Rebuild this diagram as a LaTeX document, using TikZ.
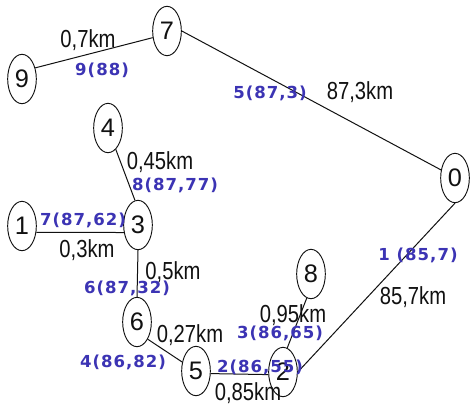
\documentclass[tikz,border=0pt]{standalone}
\usepackage{fontspec}
\setmainfont{Liberation Sans}
\newfontfamily\kmfont[FakeStretch=0.82]{Liberation Sans}
\newfontfamily\tagfont[LetterSpace=6]{DejaVu Sans}
\usetikzlibrary{shapes.geometric}
\definecolor{tagblue}{HTML}{3C34B4}
\definecolor{ink}{HTML}{111111}
\tikzset{
  stop/.style={ellipse, draw=ink, line width=0.7pt, inner sep=0pt,
    minimum width=21.5pt, minimum height=37pt, text=ink,
    font=\fontsize{19}{19}\selectfont},
  km/.style={inner sep=0pt, text=ink, font=\kmfont\fontsize{18.5}{18.5}\selectfont},
  tag/.style={inner sep=0pt, text=tagblue,
    font=\tagfont\bfseries\fontsize{12.4}{12.4}\selectfont},
  wire/.style={draw=ink, line width=0.75pt}
}

\begin{document}
\begin{tikzpicture}[x=0.75pt,y=-0.75pt]
\useasboundingbox[fill=white] (0,0) rectangle (470,410);

% =========================
% STOPS (pixel coordinates, y down)
% =========================
\foreach \n/\x/\y in {
  0/455/178, 1/22/226, 2/283/372, 3/138/225, 4/108/128,
  5/196/371, 6/137/322, 7/167/31, 8/311/274, 9/22/79
}{
  \node[stop] (n\n) at (\x,\y) {\n};
}

% =========================
% LINKS
% =========================
\draw[wire] (n9.40)   -- (n7.205);
\draw[wire] (n7.east) -- (n0.150);
\draw[wire] (n4.-70)  -- (n3.97);
\draw[wire] (n1.-24)  -- (n3.208);
\draw[wire] (n3.south) -- (n6.north);
\draw[wire] (n6.-58)  -- (n5.147);
\draw[wire] (n5.-10)  -- (n2.190);
\draw[wire] (n8.-100) -- (n2.80);
\draw[wire] (n2.east) -- (n0.south);

% =========================
% LENGTHS (black) + MARKS (blue)
% =========================
\foreach \nm/\x/\y/\t in {
  97/88/40/{0,7km}, 70/360/92/{87,3km}, 43/160/162/{0,45km},
  13/87/250/{0,3km}, 36/173/272/{0,5km}, 65/190/335/{0,27km},
  52/248/393/{0,85km}, 82/293/315/{0,95km}, 20/413/297/{85,7km}
}{
  \node[km] (k\nm) at (\x,\y) {\t};
}
\foreach \nm/\x/\y/\t in {
  97/102/70/{9(88)}, 70/270/93/{5(87,3)}, 43/175/185/{8(87,77)},
  13/83/220/{7(87,62)}, 36/127/288/{6(87,32)}, 65/123/362/{4(86,82)},
  52/260/367/{2(86,55)}, 82/280/333/{3(86,65)}, 20/418/255/{1 (85,7)}
}{
  \node[tag] (m\nm) at (\x,\y) {\t};
}

\end{tikzpicture}
\end{document}
